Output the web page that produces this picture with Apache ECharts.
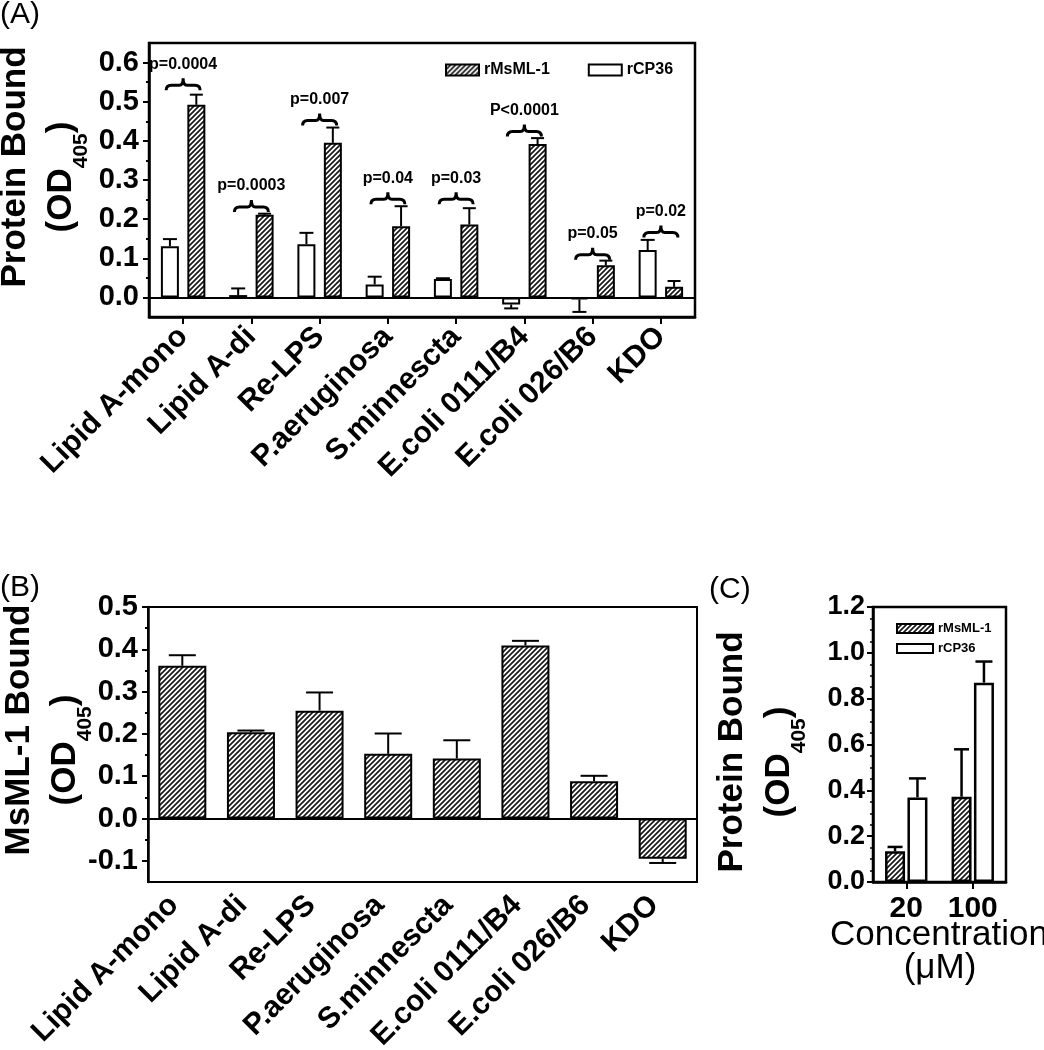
<!DOCTYPE html>
<html><head><meta charset="utf-8">
<script src="https://cdn.jsdelivr.net/npm/echarts@6/dist/echarts.min.js"></script>
<style>html,body{margin:0;padding:0;background:#fff}#c{width:1044px;height:1050px}</style>
</head><body><div id="c"></div>
<script>
// ---------------- data ----------------
const categories = ['Lipid A-mono','Lipid A-di','Re-LPS','P.aeruginosa','S.minnescta','E.coli 0111/B4','E.coli 026/B6','KDO'];
// Panel A
const rMsML1A    = [0.492, 0.211, 0.395, 0.182, 0.186, 0.392, 0.082, 0.027];
const rMsML1AErr = [0.026, 0.003, 0.039, 0.051, 0.042, 0.015, 0.012, 0.015];
const rCP36A     = [0.131, 0.006, 0.136, 0.033, 0.047, -0.018, -0.005, 0.121];
const rCP36AErr  = [0.018, 0.017, 0.029, 0.020, 0.002, 0.010, 0.032, 0.026];
const pLabels    = ['p=0.0004','p=0.0003','p=0.007','p=0.04','p=0.03','P<0.0001','p=0.05','p=0.02'];
const pBraceY    = [0.542, 0.231, 0.452, 0.251, 0.251, 0.424, 0.109, 0.166];
const yMajorA    = [0, 0.1, 0.2, 0.3, 0.4, 0.5, 0.6];
const yMinorA    = [0.05, 0.15, 0.25, 0.35, 0.45, 0.55];
// Panel B
const msml1B     = [0.361, 0.204, 0.255, 0.153, 0.142, 0.409, 0.088, -0.095];
const msml1BErr  = [0.025, 0.004, 0.043, 0.048, 0.043, 0.011, 0.013, 0.010];
const yMajorB    = [-0.1, 0, 0.1, 0.2, 0.3, 0.4, 0.5];
const yMinorB    = [-0.05, 0.05, 0.15, 0.25, 0.35, 0.45];
// Panel C
const concentrations = ['20', '100'];
const rMsML1C    = [0.134, 0.372];
const rMsML1CErr = [0.019, 0.207];
const rCP36C     = [0.369, 0.870];
const rCP36CErr  = [0.083, 0.092];

// ---------------- styling ----------------
const FF = 'Liberation Sans, Arial, Helvetica, sans-serif';
function hatchCanvas() {
  const s = 5, c = document.createElement('canvas');
  c.width = s; c.height = s;
  const g = c.getContext('2d');
  g.fillStyle = '#fff'; g.fillRect(0, 0, s, s);
  g.strokeStyle = '#1a1a1a'; g.lineWidth = 1.7; g.beginPath();
  for (const k of [-s, 0, s]) { g.moveTo(k - 1, s + 1); g.lineTo(k + s + 1, -1); }
  g.stroke();
  return c;
}
const HATCH = { image: hatchCanvas(), repeat: 'repeat' };
const BLACK = '#000';

function errSeries(xi, yi, vals, errs, offset, cap, lw) {
  return {
    type: 'custom', xAxisIndex: xi, yAxisIndex: yi, z: 5, silent: true,
    data: vals.map((v, i) => [i, v, errs[i]]),
    renderItem(params, api) {
      const i = api.value(0), v = api.value(1), e = api.value(2);
      const sg = v < 0 ? -1 : 1;
      const p0 = api.coord([i, v]), p1 = api.coord([i, v + sg * e]);
      const x = p0[0] + offset;
      const st = { stroke: BLACK, lineWidth: lw };
      return { type: 'group', children: [
        { type: 'line', shape: { x1: x, y1: p0[1], x2: x, y2: p1[1] }, style: st },
        { type: 'line', shape: { x1: x - cap / 2, y1: p1[1], x2: x + cap / 2, y2: p1[1] }, style: st }
      ]};
    }
  };
}

function valueAxis(gi, min, max, ticks, tickLen, showLabels, fs, showLine) {
  return {
    type: 'value', gridIndex: gi, min: min, max: max, position: 'left',
    axisLine: { show: showLine, lineStyle: { color: BLACK, width: 2.5 } },
    axisTick: { show: true, customValues: ticks, length: tickLen, inside: false, lineStyle: { color: BLACK, width: 2 } },
    axisLabel: { show: showLabels, customValues: ticks, formatter: v => v.toFixed(1), fontSize: fs, fontWeight: 'bold', fontFamily: FF, color: BLACK, margin: 10 },
    splitLine: { show: false }
  };
}

const zeroLine = { silent: true, symbol: 'none', animation: false, label: { show: false },
  lineStyle: { color: BLACK, width: 2, type: 'solid' }, data: [{ yAxis: 0 }] };

const catLabel = { rotate: 45, interval: 0, fontSize: 30, fontWeight: 'bold', fontFamily: FF, color: BLACK };

function yTitle(x1, y1, line1, x2, y2, fs) {
  return [
    { type: 'text', x: x1, y: y1, rotation: Math.PI / 2,
      style: { text: line1, font: 'bold ' + fs + 'px ' + FF, fill: BLACK, align: 'center', verticalAlign: 'middle' } },
    { type: 'text', x: x2, y: y2, rotation: Math.PI / 2,
      style: { text: '{m|(OD}{s|405}{m|)}', align: 'center', verticalAlign: 'middle', fill: BLACK,
        rich: {
          m: { fontSize: fs, fontWeight: 'bold', fontFamily: FF, lineHeight: 40, verticalAlign: 'top', fill: BLACK },
          s: { fontSize: 21, fontWeight: 'bold', fontFamily: FF, lineHeight: 21, padding: [27, 0, 0, 0], verticalAlign: 'top', fill: BLACK }
        } } }
  ];
}

const option = {
  animation: false,
  backgroundColor: '#fff',
  grid: [
    { left: 149, top: 43, width: 546, height: 274, show: true, borderColor: BLACK, borderWidth: 2.5, containLabel: false, outerBoundsMode: 'none' },
    { left: 148, top: 607, width: 549, height: 275, show: true, borderColor: BLACK, borderWidth: 2, containLabel: false, outerBoundsMode: 'none' },
    { left: 873, top: 607, width: 133, height: 275, show: true, borderColor: BLACK, borderWidth: 2.5, containLabel: false, outerBoundsMode: 'none' }
  ],
  legend: [
    { data: ['rMsML-1', 'rCP36'], left: 440, top: 57, orient: 'horizontal', icon: 'rect', itemWidth: 33, itemHeight: 11, itemGap: 38,
      selectedMode: false, itemStyle: { borderColor: BLACK, borderWidth: 2 },
      textStyle: { fontSize: 16, fontWeight: 'bold', fontFamily: FF, color: BLACK } },
    { data: ['rMsML-1', 'rCP36'], left: 891, top: 617, orient: 'vertical', icon: 'rect', itemWidth: 36, itemHeight: 9, itemGap: 7,
      selectedMode: false, itemStyle: { borderColor: BLACK, borderWidth: 2 },
      textStyle: { fontSize: 13, fontWeight: 'bold', fontFamily: FF, color: BLACK } }
  ],
  xAxis: [
    { type: 'category', gridIndex: 0, data: categories, position: 'bottom',
      axisLine: { onZero: false, lineStyle: { color: BLACK, width: 2.5 } },
      axisTick: { show: true, alignWithLabel: true, length: 7, lineStyle: { color: BLACK, width: 2 } },
      axisLabel: Object.assign({ margin: 15, padding: [14, 0, 0, 0] }, catLabel), splitLine: { show: false } },
    { type: 'category', gridIndex: 1, data: categories, position: 'bottom',
      axisLine: { onZero: false, lineStyle: { color: BLACK, width: 2 } },
      axisTick: { show: false },
      axisLabel: Object.assign({ margin: 10, padding: [0, 12, 10, 0] }, catLabel), splitLine: { show: false } },
    { type: 'category', gridIndex: 2, data: concentrations, position: 'bottom',
      axisLine: { onZero: false, lineStyle: { color: BLACK, width: 2.5 } },
      axisTick: { show: true, alignWithLabel: true, length: 7, lineStyle: { color: BLACK, width: 2 } },
      axisLabel: { margin: 12, fontSize: 30, fontWeight: 'bold', fontFamily: FF, color: BLACK }, splitLine: { show: false } }
  ],
  yAxis: [
    valueAxis(0, -0.05, 0.65, yMajorA, 6, true, 29, true),
    valueAxis(0, -0.05, 0.65, yMinorA, 3, false, 29, false),
    valueAxis(1, -0.15, 0.5, yMajorB, 6, true, 29, true),
    valueAxis(1, -0.15, 0.5, yMinorB, 3, false, 29, false),
    { type: 'value', gridIndex: 2, min: 0, max: 1.2, interval: 0.2, position: 'left',
      axisLine: { show: true, lineStyle: { color: BLACK, width: 2.5 } },
      axisTick: { show: true, length: 6, lineStyle: { color: BLACK, width: 2 } },
      minorTick: { show: true, splitNumber: 4, length: 3, lineStyle: { color: BLACK, width: 1.5 } },
      axisLabel: { formatter: v => v.toFixed(1), fontSize: 27, fontWeight: 'bold', fontFamily: FF, color: BLACK, margin: 8 },
      splitLine: { show: false }, minorSplitLine: { show: false } }
  ],
  series: [
    // Panel A
    { name: 'rCP36', type: 'bar', xAxisIndex: 0, yAxisIndex: 0, data: rCP36A, barWidth: 18, barGap: '47%',
      itemStyle: { color: '#fff', borderColor: BLACK, borderWidth: 2 }, markLine: zeroLine },
    { name: 'rMsML-1', type: 'bar', xAxisIndex: 0, yAxisIndex: 0, data: rMsML1A, barWidth: 18, barGap: '47%',
      itemStyle: { color: HATCH, borderColor: BLACK, borderWidth: 2 } },
    errSeries(0, 0, rCP36A, rCP36AErr, -13.2, 14, 2),
    errSeries(0, 0, rMsML1A, rMsML1AErr, 13.2, 13, 2),
    { type: 'custom', xAxisIndex: 0, yAxisIndex: 0, z: 6, silent: true,
      data: pBraceY.map((y, i) => [i, y]),
      renderItem(params, api) {
        const i = api.value(0), p = api.coord([i, api.value(1)]);
        const cx = p[0], y = p[1], h = 17;
        const d = 'M' + (cx - h) + ' ' + (y + 5) + ' Q' + (cx - h) + ' ' + y + ' ' + (cx - h + 5) + ' ' + y +
          ' L' + (cx - 4) + ' ' + y + ' Q' + cx + ' ' + y + ' ' + cx + ' ' + (y - 7) +
          ' Q' + cx + ' ' + y + ' ' + (cx + 4) + ' ' + y + ' L' + (cx + h - 5) + ' ' + y +
          ' Q' + (cx + h) + ' ' + y + ' ' + (cx + h) + ' ' + (y + 5);
        return { type: 'group', children: [
          { type: 'path', shape: { pathData: d }, style: { stroke: BLACK, lineWidth: 3, fill: null } },
          { type: 'text', x: cx, y: y - 21, style: { text: pLabels[i], font: 'bold 16px ' + FF, fill: BLACK, align: 'center', verticalAlign: 'middle' } }
        ]};
      } },
    // Panel B
    { name: 'MsML-1', type: 'bar', xAxisIndex: 1, yAxisIndex: 2, data: msml1B, barWidth: 48,
      itemStyle: { color: HATCH, borderColor: BLACK, borderWidth: 2 }, markLine: zeroLine },
    errSeries(1, 2, msml1B, msml1BErr, 0, 27, 2),
    // Panel C
    { name: 'rMsML-1', type: 'bar', xAxisIndex: 2, yAxisIndex: 4, data: rMsML1C, barWidth: 20, barGap: '12%',
      itemStyle: { color: HATCH, borderColor: BLACK, borderWidth: 2.5 } },
    { name: 'rCP36', type: 'bar', xAxisIndex: 2, yAxisIndex: 4, data: rCP36C, barWidth: 20, barGap: '12%',
      itemStyle: { color: '#fff', borderColor: BLACK, borderWidth: 2.5 } },
    errSeries(2, 4, rMsML1C, rMsML1CErr, -11.2, 15, 2.5),
    errSeries(2, 4, rCP36C, rCP36CErr, 11.2, 17, 2.5)
  ],
  graphic: [].concat(
    [
      { type: 'text', x: 0, y: 0, style: { text: '(A)', font: '30px ' + FF, fill: BLACK, align: 'left', verticalAlign: 'top' } },
      { type: 'text', x: 0, y: 573, style: { text: '(B)', font: '30px ' + FF, fill: BLACK, align: 'left', verticalAlign: 'top' } },
      { type: 'text', x: 709, y: 575, style: { text: '(C)', font: '30px ' + FF, fill: BLACK, align: 'left', verticalAlign: 'top' } },
      { type: 'text', x: 939, y: 935, style: { text: 'Concentration', font: '35px ' + FF, fill: BLACK, align: 'center', verticalAlign: 'middle' } },
      { type: 'text', x: 940, y: 968, style: { text: '(\u03bcM)', font: '35px ' + FF, fill: BLACK, align: 'center', verticalAlign: 'middle' } }
    ],
    yTitle(15, 167, 'Protein Bound', 64, 177, 35),
    yTitle(19, 730, 'MsML-1 Bound', 68, 750, 35),
    yTitle(732, 752, 'Protein Bound', 782, 762, 35)
  )
};
echarts.init(document.getElementById('c')).setOption(option);
</script>
</body></html>
